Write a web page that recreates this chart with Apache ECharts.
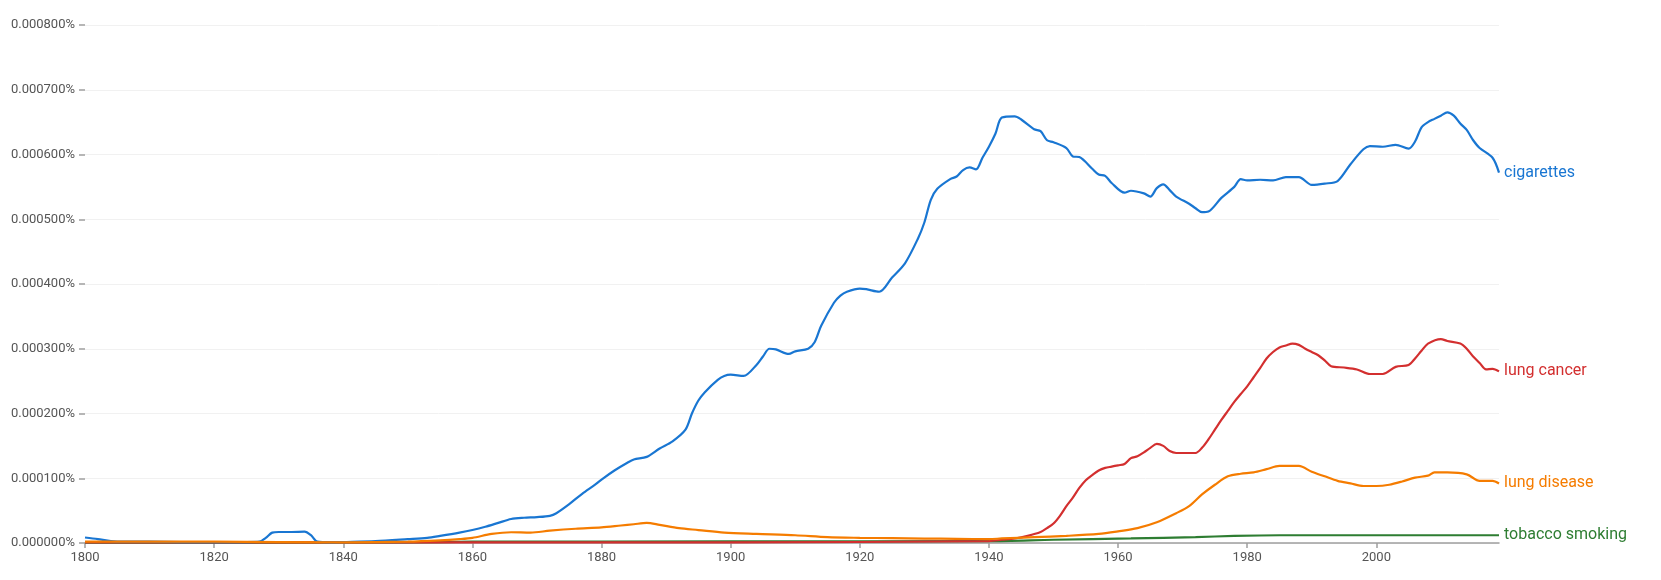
<!DOCTYPE html>
<html>
<head>
<meta charset="utf-8">
<title>Ngram: cigarettes, lung cancer, lung disease, tobacco smoking</title>
<script src="https://cdn.jsdelivr.net/npm/echarts@6/dist/echarts.min.js"></script>
<style>
  html, body { margin: 0; padding: 0; background: #fff; }
  #chart { width: 1661px; height: 580px; }
</style>
</head>
<body>
<div id="chart"></div>
<script>
// values are in millionths of a percent (657 -> 0.000657%)
var cigYears = [1800,1802,1804,1806,1810,1815,1820,1825,1827,1828,1829,1830,1832,1834,1835,1836,1838,1840,1845,1850,1853,1855,1858,1860,1862,1864,1866,1868,1870,1872,1873,1875,1877,1879,1880,1882,1884,1885,1887,1889,1891,1893,1894,1895,1896,1898,1899,1900,1902,1904,1905,1906,1907,1909,1910,1912,1913,1914,1916,1917,1918,1920,1921,1923,1925,1927,1929,1930,1931,1932,1934,1935,1936,1937,1938,1939,1940,1941,1942,1944,1945,1947,1948,1949,1950,1952,1953,1954,1956,1957,1958,1959,1961,1962,1964,1965,1966,1967,1968,1969,1971,1972,1973,1974,1976,1978,1979,1980,1982,1984,1986,1988,1990,1992,1994,1996,1998,1999,2001,2003,2005,2006,2007,2008,2009,2010,2011,2012,2013,2014,2015,2016,2018,2019];
var cigValues = [8.5,6,3,2,2,1.5,1.5,1.5,2,8,16,17,17,17.5,12,2,1,1.5,3,6,8,11,16,20,25,31,37,39,40,42,46,60,76,90,98,112,124,129,133,146,157,175,200,220,233,252,258,260,258,275,288,300,299,292,296,300,310,335,371,382,388,393,392,388,410,432,470,495,530,547,562,566,576,580,577,595,612,632,657,659,654,639,636,622,619,610,597,596,578,569,567,556,541,544,540,535,548,554,545,535,524,517,511,512,533,550,562,560,561,560,565,565,553,555,559,585,608,613,612,615,609,620,642,650,655,660,665,660,648,638,622,610,595,572];

var cancerYears = [1800,1850,1900,1940,1942,1944,1946,1948,1949,1950,1951,1952,1953,1954,1955,1956,1957,1958,1959,1960,1961,1962,1963,1964,1965,1966,1967,1968,1969,1971,1972,1973,1974,1975,1976,1977,1978,1979,1980,1981,1982,1983,1984,1985,1986,1987,1988,1989,1990,1991,1992,1993,1995,1997,1999,2001,2003,2005,2006,2007,2008,2010,2011,2013,2014,2015,2016,2017,2018,2019];
var cancerValues = [1,1,1,3,5,7,11,17,23,30,42,57,70,85,97,105,112,116,118,120,122,131,134,140,147,153,150,142,139,139,139,147,160,175,190,204,218,230,242,256,270,285,295,302,305,308,306,300,295,290,282,273,271,268,261,261,272,275,285,297,308,315,312,308,300,288,278,268,269,265];

var diseaseYears = [1800,1820,1840,1850,1855,1858,1860,1863,1866,1869,1872,1876,1880,1883,1885,1887,1889,1892,1895,1899,1904,1910,1915,1920,1925,1930,1935,1940,1942,1947,1952,1957,1960,1963,1966,1969,1971,1973,1975,1977,1979,1981,1983,1985,1988,1990,1992,1994,1996,1998,2000,2002,2004,2006,2008,2009,2011,2014,2016,2018,2019];
var diseaseValues = [2,2,1,2,4,6,8,14,16.6,16,19,22,24,27,29,31,28,23,20,16,14,12,9,8,7.5,6.8,6.5,6,7,9,11,14,18,23,32,46,57,75,90,103,107,109,114,119,119,110,103,96,92,88,88,90,95,101,104,109,109,106,96,96,92];

var smokingYears = [1800,1850,1860,1900,1940,1950,1962,1972,1978,1985,1990,2000,2010,2019];
var smokingValues = [0.5,1,2,2.5,3,5,7,9,11,12,12,12,12,12];

var yTicks = [0,100,200,300,400,500,600,700,800];
var xTicks = [1800,1820,1840,1860,1880,1900,1920,1940,1960,1980,2000];

function pairs(xs, ys) {
    var out = [];
    for (var i = 0; i < xs.length; i++) out.push([xs[i], ys[i]]);
    return out;
}

function makeSeries(name, color, xs, ys) {
    return {
        name: name,
        type: 'line',
        smooth: 0.3,
        showSymbol: false,
        data: pairs(xs, ys),
        lineStyle: { color: color, width: 2.2 },
        itemStyle: { color: color },
        endLabel: {
            show: true,
            formatter: '{a}',
            color: color,
            fontSize: 16,
            distance: 5,
            fontFamily: 'Roboto'
        }
    };
}

var myChart = echarts.init(document.getElementById('chart'));
var option = {
    animation: false,
    textStyle: { fontFamily: 'Roboto' },
    grid: {
        left: 85,
        right: 162,
        top: 25,
        bottom: 37,
        containLabel: false
    },
    xAxis: {
        type: 'value',
        min: 1800,
        max: 2019,
        axisLine: { show: true, lineStyle: { color: '#9e9e9e', width: 1.5 } },
        axisTick: {
            show: true,
            length: 5,
            customValues: xTicks,
            lineStyle: { color: '#9e9e9e', width: 1.5 }
        },
        axisLabel: {
            customValues: xTicks,
            color: '#555',
            fontSize: 13,
            margin: 8,
            formatter: function (v) { return String(v); }
        },
        splitLine: { show: false }
    },
    yAxis: {
        type: 'value',
        min: 0,
        max: 800,
        interval: 100,
        axisLine: { show: false },
        axisTick: {
            show: true,
            length: 6,
            customValues: yTicks,
            lineStyle: { color: '#9e9e9e', width: 1.5 }
        },
        axisLabel: {
            color: '#555',
            fontSize: 13,
            margin: 10,
            formatter: function (v) { return (v / 1e6).toFixed(6) + '%'; }
        },
        splitLine: { show: true, lineStyle: { color: '#f1f1f1', width: 1 } }
    },
    series: [
        makeSeries('tobacco smoking', '#2e7d32', smokingYears, smokingValues),
        makeSeries('lung cancer', '#d32f2f', cancerYears, cancerValues),
        makeSeries('cigarettes', '#1976d2', cigYears, cigValues),
        makeSeries('lung disease', '#f57c00', diseaseYears, diseaseValues)
    ]
};
myChart.setOption(option, true);
</script>
</body>
</html>
